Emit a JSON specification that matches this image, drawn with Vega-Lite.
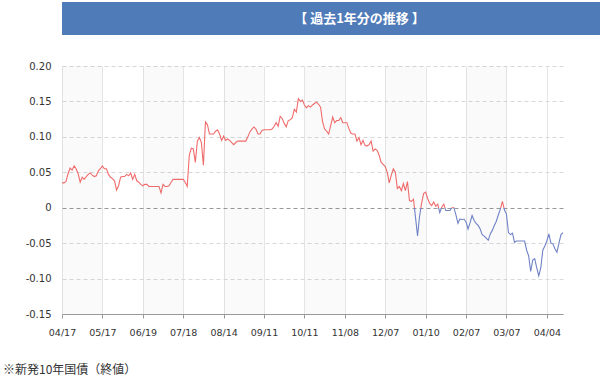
{
  "$schema": "https://vega.github.io/schema/vega-lite/v6.json",
  "padding": {"left": 2, "top": 2, "right": 3, "bottom": 0},
  "autosize": {"type": "pad"},
  "background": "white",
  "spacing": 26,
  "config": {"view": {"stroke": null}, "font": "DejaVu Sans"},
  "vconcat": [
    {
      "width": 595,
      "height": 33,
      "view": {"fill": "#4f7bb9", "stroke": null},
      "data": {"values": [{"t": "【 過去1年分の推移 】"}]},
      "mark": {"type": "text", "color": "white", "font": "Noto Sans CJK JP", "fontWeight": "bold", "fontSize": 13},
      "encoding": {"text": {"field": "t", "type": "nominal"}}
    },
    {
      "width": 501,
      "height": 248,
      "title": {"text": "※新発10年国債（終値）", "orient": "bottom", "anchor": "start", "frame": "bounds", "offset": 28, "dx": 1, "font": "Noto Sans CJK JP", "fontSize": 12, "fontWeight": "normal", "color": "#333"},
      "layer": [
        {
          "data": {"values": [{"s": 0, "e": 20}, {"s": 40, "e": 60}, {"s": 80, "e": 100}, {"s": 120, "e": 140}, {"s": 160, "e": 180}, {"s": 200, "e": 220}]},
          "mark": {"type": "rect", "fill": "#000", "opacity": 0.02},
          "encoding": {
            "x": {
              "field": "s", "type": "quantitative",
              "scale": {"domain": [0, 248], "nice": false, "zero": false},
              "axis": {
                "values": [0, 20, 40, 60, 80, 100, 120, 140, 160, 180, 200, 220, 240],
                "labelExpr": "['04/17','05/17','06/19','07/18','08/14','09/11','10/11','11/08','12/07','01/10','02/07','03/07','04/04'][round(datum.value/20)]",
                "title": null,
                "grid": true, "gridColor": "#e6e6e6", "gridWidth": 1,
                "domainColor": "#999", "tickColor": "#999", "tickSize": 4,
                "labelPadding": 9, "labelFontSize": 9.5, "labelColor": "#333", "labelFont": "DejaVu Sans",
                "labelFlush": false
              }
            },
            "x2": {"field": "e"}
          }
        },
        {
          "data": {"values": [
{"i":0,"v":0.035},{"i":1,"v":0.035},{"i":2,"v":0.037},{"i":3,"v":0.048},{"i":4,"v":0.056},{"i":5,"v":0.053},{"i":6,"v":0.059},{"i":7,"v":0.055},{"i":8,"v":0.048},{"i":9,"v":0.036},
{"i":10,"v":0.043},{"i":11,"v":0.040},{"i":12,"v":0.044},{"i":13,"v":0.047},{"i":14,"v":0.049},{"i":15,"v":0.046},{"i":16,"v":0.044},{"i":17,"v":0.045},{"i":18,"v":0.052},{"i":19,"v":0.055},
{"i":20,"v":0.059},{"i":21,"v":0.055},{"i":22,"v":0.055},{"i":23,"v":0.047},{"i":24,"v":0.043},{"i":25,"v":0.041},{"i":26,"v":0.038},{"i":27,"v":0.025},{"i":28,"v":0.031},{"i":29,"v":0.043},
{"i":30,"v":0.044},{"i":31,"v":0.044},{"i":32,"v":0.047},{"i":33,"v":0.045},{"i":34,"v":0.049},{"i":35,"v":0.040},{"i":36,"v":0.047},{"i":37,"v":0.038},{"i":38,"v":0.036},{"i":39,"v":0.033},
{"i":40,"v":0.031},{"i":41,"v":0.033},{"i":42,"v":0.033},{"i":43,"v":0.030},{"i":44,"v":0.030},{"i":45,"v":0.030},{"i":46,"v":0.030},{"i":47,"v":0.030},{"i":48,"v":0.030},{"i":49,"v":0.021},
{"i":50,"v":0.033},{"i":51,"v":0.030},{"i":52,"v":0.030},{"i":53,"v":0.031},{"i":54,"v":0.036},{"i":55,"v":0.040},{"i":56,"v":0.040},{"i":57,"v":0.040},{"i":58,"v":0.040},{"i":59,"v":0.040},
{"i":60,"v":0.040},{"i":61,"v":0.036},{"i":62,"v":0.030},{"i":63,"v":0.074},{"i":64,"v":0.084},{"i":65,"v":0.083},{"i":66,"v":0.064},{"i":67,"v":0.094},{"i":68,"v":0.099},{"i":69,"v":0.092},
{"i":70,"v":0.060},{"i":71,"v":0.121},{"i":72,"v":0.117},{"i":73,"v":0.104},{"i":74,"v":0.104},{"i":75,"v":0.104},{"i":76,"v":0.108},{"i":77,"v":0.110},{"i":78,"v":0.104},{"i":79,"v":0.095},
{"i":80,"v":0.101},{"i":81,"v":0.095},{"i":82,"v":0.097},{"i":83,"v":0.095},{"i":84,"v":0.092},{"i":85,"v":0.089},{"i":86,"v":0.092},{"i":87,"v":0.094},{"i":88,"v":0.094},{"i":89,"v":0.094},
{"i":90,"v":0.094},{"i":91,"v":0.094},{"i":92,"v":0.100},{"i":93,"v":0.107},{"i":94,"v":0.111},{"i":95,"v":0.114},{"i":96,"v":0.111},{"i":97,"v":0.104},{"i":98,"v":0.104},{"i":99,"v":0.109},
{"i":100,"v":0.110},{"i":101,"v":0.110},{"i":102,"v":0.110},{"i":103,"v":0.110},{"i":104,"v":0.111},{"i":105,"v":0.115},{"i":106,"v":0.120},{"i":107,"v":0.115},{"i":108,"v":0.129},{"i":109,"v":0.126},
{"i":110,"v":0.119},{"i":111,"v":0.114},{"i":112,"v":0.123},{"i":113,"v":0.124},{"i":114,"v":0.127},{"i":115,"v":0.139},{"i":116,"v":0.135},{"i":117,"v":0.154},{"i":118,"v":0.150},{"i":119,"v":0.152},
{"i":120,"v":0.145},{"i":121,"v":0.141},{"i":122,"v":0.144},{"i":123,"v":0.142},{"i":124,"v":0.145},{"i":125,"v":0.147},{"i":126,"v":0.149},{"i":127,"v":0.146},{"i":128,"v":0.142},{"i":129,"v":0.121},
{"i":130,"v":0.111},{"i":131,"v":0.108},{"i":132,"v":0.104},{"i":133,"v":0.116},{"i":134,"v":0.128},{"i":135,"v":0.120},{"i":136,"v":0.123},{"i":137,"v":0.123},{"i":138,"v":0.127},{"i":139,"v":0.120},
{"i":140,"v":0.120},{"i":141,"v":0.120},{"i":142,"v":0.112},{"i":143,"v":0.105},{"i":144,"v":0.104},{"i":145,"v":0.104},{"i":146,"v":0.094},{"i":147,"v":0.099},{"i":148,"v":0.089},{"i":149,"v":0.095},
{"i":150,"v":0.088},{"i":151,"v":0.087},{"i":152,"v":0.089},{"i":153,"v":0.094},{"i":154,"v":0.080},{"i":155,"v":0.083},{"i":156,"v":0.081},{"i":157,"v":0.074},{"i":158,"v":0.064},{"i":159,"v":0.061},
{"i":160,"v":0.058},{"i":161,"v":0.050},{"i":162,"v":0.035},{"i":163,"v":0.046},{"i":164,"v":0.055},{"i":165,"v":0.050},{"i":166,"v":0.027},{"i":167,"v":0.030},{"i":168,"v":0.024},{"i":169,"v":0.034},
{"i":170,"v":0.024},{"i":171,"v":0.037},{"i":172,"v":0.010},{"i":173,"v":0.009},{"i":174,"v":0.012},{"i":175,"v":-0.014},{"i":176,"v":-0.040},{"i":177,"v":-0.012},{"i":178,"v":0.006},{"i":179,"v":0.020},
{"i":180,"v":0.022},{"i":181,"v":0.013},{"i":182,"v":0.006},{"i":183,"v":0.003},{"i":184,"v":0.008},{"i":185,"v":0.002},{"i":186,"v":0.005},{"i":187,"v":-0.007},{"i":188,"v":0.001},{"i":189,"v":0.005},
{"i":190,"v":-0.004},{"i":191,"v":-0.004},{"i":192,"v":-0.004},{"i":193,"v":0.000},{"i":194,"v":0.000},{"i":195,"v":-0.010},{"i":196,"v":-0.022},{"i":197,"v":-0.016},{"i":198,"v":-0.017},{"i":199,"v":-0.016},
{"i":200,"v":-0.020},{"i":201,"v":-0.030},{"i":202,"v":-0.021},{"i":203,"v":-0.011},{"i":204,"v":-0.018},{"i":205,"v":-0.022},{"i":206,"v":-0.025},{"i":207,"v":-0.030},{"i":208,"v":-0.038},{"i":209,"v":-0.040},
{"i":210,"v":-0.043},{"i":211,"v":-0.046},{"i":212,"v":-0.037},{"i":213,"v":-0.032},{"i":214,"v":-0.025},{"i":215,"v":-0.019},{"i":216,"v":-0.010},{"i":217,"v":-0.002},{"i":218,"v":0.009},{"i":219,"v":-0.003},
{"i":220,"v":-0.009},{"i":221,"v":-0.035},{"i":222,"v":-0.038},{"i":223,"v":-0.036},{"i":224,"v":-0.049},{"i":225,"v":-0.047},{"i":226,"v":-0.047},{"i":227,"v":-0.047},{"i":228,"v":-0.047},{"i":229,"v":-0.047},
{"i":230,"v":-0.060},{"i":231,"v":-0.068},{"i":232,"v":-0.090},{"i":233,"v":-0.074},{"i":234,"v":-0.072},{"i":235,"v":-0.085},{"i":236,"v":-0.096},{"i":237,"v":-0.085},{"i":238,"v":-0.060},{"i":239,"v":-0.054},
{"i":240,"v":-0.047},{"i":241,"v":-0.037},{"i":242,"v":-0.050},{"i":243,"v":-0.051},{"i":244,"v":-0.058},{"i":245,"v":-0.063},{"i":246,"v":-0.050},{"i":247,"v":-0.038},{"i":248,"v":-0.035}
          ]},
          "mark": {
            "type": "line",
            "strokeWidth": 1.1,
            "stroke": {"gradient": "linear", "x1": 0, "y1": 0, "x2": 0, "y2": 1, "stops": [
              {"offset": 0, "color": "#ef6b6b"},
              {"offset": 0.616, "color": "#ef6b6b"},
              {"offset": 0.616, "color": "#6f82c6"},
              {"offset": 1, "color": "#6f82c6"}
            ]}
          },
          "encoding": {
            "x": {
              "field": "i", "type": "quantitative",
              "scale": {"domain": [0, 248], "nice": false, "zero": false},
              "axis": {
                "values": [0, 20, 40, 60, 80, 100, 120, 140, 160, 180, 200, 220, 240],
                "labelExpr": "['04/17','05/17','06/19','07/18','08/14','09/11','10/11','11/08','12/07','01/10','02/07','03/07','04/04'][round(datum.value/20)]",
                "title": null,
                "grid": true, "gridColor": "#e6e6e6", "gridWidth": 1,
                "domainColor": "#999", "tickColor": "#999", "tickSize": 4,
                "labelPadding": 9, "labelFontSize": 9.5, "labelColor": "#333", "labelFont": "DejaVu Sans",
                "labelFlush": false
              }
            },
            "y": {
              "field": "v", "type": "quantitative",
              "scale": {"domain": [-0.15, 0.2], "nice": false, "zero": false},
              "axis": {
                "values": [-0.15, -0.1, -0.05, 0, 0.05, 0.1, 0.15, 0.2],
                "labelExpr": "datum.value == 0 ? '0' : replace(format(datum.value, '.2f'), '−', '-')",
                "title": null, "domain": false, "ticks": false,
                "labelPadding": 11, "labelFontSize": 10, "labelColor": "#333", "labelFont": "DejaVu Sans",
                "gridColor": {"condition": {"test": "datum.value === 0", "value": "#999999"}, "value": "#d9d9d9"},
                "gridDash": [4, 3],
                "minExtent": 60, "maxExtent": 60
              }
            }
          }
        }
      ]
    }
  ]
}
